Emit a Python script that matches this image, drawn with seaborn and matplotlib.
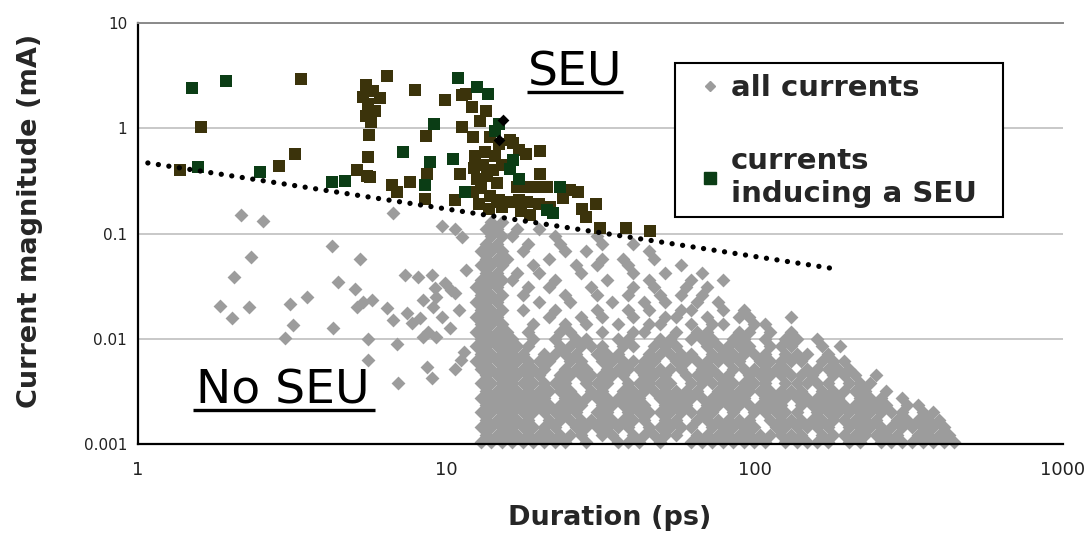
import matplotlib
matplotlib.use("Agg")
import matplotlib.pyplot as plt
import seaborn as sns
import pandas as pd
from matplotlib.lines import Line2D
from matplotlib.patches import Rectangle

# ---------------- data ----------------
# sparse grey "all currents" points (duration ps, current mA)
sparse_durations = [2.17, 2.56, 4.26, 2.33, 5.26, 2.05, 4.47, 5.07, 3.53, 3.12, 1.85, 2.29,
                    2.02, 3.2, 4.31, 3.0, 5.13, 5.39, 5.74, 6.42, 6.74, 5.6, 5.6, 6.92, 7.0,
                    7.35, 8.13, 6.74, 9.67, 7.45, 7.73, 8.23, 8.43, 9.08, 9.31, 8.98, 9.2,
                    9.91, 10.4, 9.67, 10.3, 8.75, 9.31, 8.43, 8.65, 8.98, 10.7, 11.2, 10.7,
                    11.3, 11.0, 10.7, 11.6, 11.4]
sparse_currents = [0.150, 0.133, 0.076, 0.0596, 0.057, 0.0384, 0.0349, 0.0295, 0.0248, 0.0213,
                   0.0205, 0.0199, 0.0157, 0.0135, 0.0126, 0.0102, 0.0202, 0.0225, 0.0234,
                   0.0195, 0.0151, 0.0099, 0.0063, 0.0089, 0.0038, 0.0404, 0.0384, 0.156,
                   0.118, 0.0175, 0.014, 0.0157, 0.0234, 0.0202, 0.0251, 0.0404, 0.0302,
                   0.0337, 0.029, 0.0162, 0.0126, 0.0117, 0.0105, 0.0105, 0.0054, 0.0042,
                   0.0052, 0.0063, 0.11, 0.093, 0.019, 0.027, 0.045, 0.0075]

# dense grey cloud, read row by row: one current level and the durations seen on it
dense_currents = [0.00105, 0.00123, 0.00145, 0.0017, 0.002, 0.00234, 0.00275, 0.0032,
                  0.0038, 0.0045, 0.0052, 0.0062, 0.0072, 0.0085, 0.01, 0.0117, 0.0138,
                  0.0162, 0.019, 0.0224, 0.026, 0.031, 0.036, 0.042, 0.05, 0.058, 0.068,
                  0.08, 0.094, 0.11, 0.13]
dense_durations = [
    [13.0, 14.0, 15.2, 16.4, 17.7, 19.2, 20.8, 22.5, 24.3, 28.5, 36.0, 39.0, 42.2, 49.3, 62.4,
     67.5, 73.0, 79.0, 85.4, 92.4, 100, 108, 126, 137, 148, 160, 173, 203, 219, 257, 278, 300,
     325, 351, 380, 411, 445],
    [13.5, 14.6, 15.8, 17.0, 18.4, 20.0, 21.6, 23.4, 25.3, 27.4, 32.0, 34.6, 40.5, 43.9, 47.4,
     51.3, 55.5, 64.9, 70.2, 76.0, 82.1, 88.8, 96.1, 104, 112, 122, 131, 142, 166, 180, 195,
     211, 228, 247, 267, 289, 338, 366, 395, 428],
    [13.0, 14.0, 15.2, 16.4, 17.7, 19.2, 20.8, 22.5, 26.3, 28.5, 30.8, 33.3, 36.0, 39.0, 45.6,
     49.3, 53.4, 57.7, 62.4, 73.0, 79.0, 85.4, 92.4, 100, 117, 126, 137, 148, 160, 173, 203,
     219, 237, 257, 278, 300, 325, 351, 380, 411],
    [13.5, 14.6, 15.8, 17.0, 18.4, 21.6, 23.4, 25.3, 27.4, 29.6, 32.0, 34.6, 37.5, 40.5, 43.9,
     51.3, 55.5, 64.9, 70.2, 76.0, 82.1, 88.8, 96.1, 112, 122, 131, 142, 154, 166, 180, 195,
     211, 228, 247, 289, 312, 338, 366, 395],
    [13.0, 14.0, 15.2, 16.4, 17.7, 19.2, 20.8, 22.5, 24.3, 26.3, 30.8, 33.3, 39.0, 42.2, 45.6,
     49.3, 53.4, 57.7, 62.4, 67.5, 73.0, 85.4, 100, 108, 117, 126, 137, 160, 173, 187, 203,
     219, 237, 257, 278, 300, 351, 380],
    [13.5, 14.6, 15.8, 17.0, 18.4, 20.0, 21.6, 23.4, 25.3, 27.4, 32.0, 34.6, 37.5, 40.5, 43.9,
     51.3, 55.5, 60.0, 70.2, 76.0, 82.1, 88.8, 96.1, 104, 112, 122, 142, 154, 166, 180, 195,
     211, 228, 247, 267, 312, 338],
    [13.0, 14.0, 15.2, 16.4, 17.7, 19.2, 20.8, 24.3, 26.3, 28.5, 30.8, 33.3, 36.0, 39.0, 42.2,
     49.3, 53.4, 57.7, 62.4, 67.5, 73.0, 79.0, 85.4, 92.4, 108, 117, 126, 137, 148, 160, 173,
     187, 219, 237, 257, 300],
    [13.5, 14.6, 15.8, 17.0, 18.4, 20.0, 21.6, 23.4, 25.3, 29.6, 32.0, 37.5, 40.5, 43.9, 47.4,
     51.3, 55.5, 60.0, 64.9, 76.0, 82.1, 88.8, 96.1, 104, 112, 122, 131, 142, 166, 180, 195,
     211, 228, 267],
    [13.0, 14.0, 15.2, 16.4, 17.7, 19.2, 20.8, 22.5, 24.3, 28.5, 30.8, 33.3, 39.0, 42.2, 45.6,
     49.3, 53.4, 62.4, 67.5, 73.0, 79.0, 85.4, 92.4, 100, 108, 126, 137, 148, 160, 173, 203,
     219, 237],
    [13.5, 14.6, 15.8, 17.0, 18.4, 20.0, 23.4, 25.3, 27.4, 29.6, 32.0, 34.6, 37.5, 43.9, 47.4,
     51.3, 60.0, 64.9, 70.2, 76.0, 82.1, 96.1, 104, 112, 122, 131, 142, 154, 180, 195, 211,
     247],
    [13.0, 14.0, 15.2, 16.4, 17.7, 19.2, 20.8, 24.3, 26.3, 28.5, 33.3, 36.0, 39.0, 42.2, 45.6,
     49.3, 53.4, 57.7, 67.5, 73.0, 85.4, 92.4, 100, 108, 117, 126, 148, 160, 173, 187, 203],
    [12.5, 13.5, 14.6, 15.8, 17.0, 18.4, 20.0, 21.6, 25.3, 27.4, 32.0, 34.6, 37.5, 40.5, 43.9,
     47.4, 55.5, 60.0, 64.9, 70.2, 76.0, 82.1, 88.8, 104, 112, 122, 131, 142, 166, 180, 195],
    [13.0, 14.0, 15.2, 16.4, 17.7, 20.8, 22.5, 24.3, 26.3, 30.8, 33.3, 36.0, 45.6, 49.3, 53.4,
     57.7, 62.4, 73.0, 79.0, 85.4, 92.4, 100, 108, 126, 137, 148, 173],
    [12.5, 13.5, 14.6, 15.8, 17.0, 18.4, 23.4, 25.3, 27.4, 29.6, 32.0, 37.5, 40.5, 47.4, 51.3,
     55.5, 70.2, 76.0, 82.1, 88.8, 96.1, 112, 122, 131, 166, 190],
    [13.0, 14.0, 15.2, 16.4, 19.2, 22.5, 26.3, 28.5, 36.0, 39.0, 49.3, 53.4, 62.4, 67.5, 73.0,
     85.4, 92.4, 108, 126, 137, 160],
    [12.5, 13.5, 14.6, 15.8, 18.4, 23.4, 25.3, 32.0, 40.5, 43.9, 55.5, 64.9, 70.2, 88.8, 96.1,
     112, 131],
    [13.0, 14.0, 15.2, 19.2, 24.3, 28.5, 36.0, 45.6, 49.3, 62.4, 73.0, 79.0, 100, 108],
    [12.5, 13.5, 14.6, 21.6, 27.4, 32.0, 40.5, 51.3, 55.5, 70.2, 88.8, 96.1, 131],
    [13.0, 14.0, 15.2, 17.7, 22.5, 30.8, 39.0, 45.6, 57.7, 62.4, 79.0, 92.4],
    [12.5, 13.5, 14.6, 20.0, 25.3, 34.6, 43.9, 51.3, 64.9, 76.0],
    [13.0, 14.0, 15.2, 17.7, 24.3, 30.8, 39.0, 49.3, 57.7, 67.5],
    [12.5, 13.5, 14.6, 18.4, 21.6, 29.6, 40.5, 47.4, 60.0, 70.2],
    [13.0, 14.0, 15.2, 16.4, 22.5, 33.3, 45.6, 62.4, 79.0],
    [13.5, 14.6, 17.0, 20.0, 27.4, 40.5, 51.3, 67.5],
    [13.0, 14.0, 15.2, 19.2, 26.3, 30.8, 39.0, 57.7],
    [13.5, 14.6, 15.8, 21.6, 32.0, 37.5, 47.4],
    [13.0, 14.0, 15.2, 17.7, 24.3, 28.5, 45.6],
    [13.5, 14.6, 18.4, 23.4, 32.0, 40.5],
    [14.0, 15.2, 16.4, 22.5, 30.8],
    [13.5, 14.6, 17.0, 20.0],
    [14.0, 15.2],
]

# currents inducing a SEU (dark green squares)
seu_green_durations = [1.5, 1.93, 1.57, 2.5, 4.26, 4.7, 10.9, 9.15, 7.26, 8.54, 8.87, 11.5,
                       10.5, 12.6, 13.7, 14.9, 14.4, 16.1, 16.5, 17.3, 23.4, 21.2, 22.2]
seu_green_currents = [2.45, 2.8, 0.43, 0.385, 0.31, 0.316, 3.0, 1.11, 0.6, 0.287, 0.48, 0.248,
                      0.515, 2.47, 2.14, 1.11, 0.95, 0.41, 0.5, 0.33, 0.277, 0.168, 0.156]
# second (dark olive) group of SEU squares
seu_olive_durations = [3.40, 1.61, 1.37, 2.87, 3.24, 5.13, 5.5, 5.8, 5.4, 6.1, 5.6, 5.9, 5.5,
                       5.7, 5.64, 6.42, 7.92, 9.9, 8.6, 5.6, 5.66, 6.66, 6.92, 7.63, 8.54,
                       8.65, 10.7, 11.1, 11.3, 11.3, 12.9, 12.2, 13.5, 5.53, 12.3, 13.2, 14.2,
                       12.6, 13.6, 14.6, 12.2, 13.0, 13.9, 14.8, 12.8, 13.8, 15.2, 12.4, 13.4,
                       14.4, 15.2, 16.5, 18.2, 20.1, 20.1, 21.2, 17.3, 20.0, 17.5, 21.7, 25.2,
                       26.8, 30.7, 31.5, 38.4, 45.7, 27.5, 28.5, 11.6, 12.1, 13.9, 14.9, 16.1,
                       17.3, 17.0, 18.3, 19.7, 14.6, 16.1, 18.3, 18.7, 24.0]
seu_olive_currents = [2.97, 1.03, 0.40, 0.435, 0.566, 0.40, 2.6, 2.25, 2.0, 1.95, 1.7, 1.45,
                      1.3, 1.15, 0.86, 3.14, 2.33, 1.87, 0.84, 0.53, 0.344, 0.287, 0.248, 0.31,
                      0.215, 0.37, 0.207, 0.37, 1.03, 2.1, 1.19, 0.83, 1.48, 0.357, 0.42, 0.45,
                      0.40, 0.33, 0.35, 0.3, 0.25, 0.27, 0.23, 0.21, 0.19, 0.17, 0.18, 0.55,
                      0.6, 0.55, 0.45, 0.72, 0.575, 0.615, 0.37, 0.277, 0.21, 0.19, 0.165,
                      0.178, 0.258, 0.248, 0.193, 0.112, 0.112, 0.107, 0.17, 0.145, 2.14, 1.6,
                      0.83, 0.71, 0.77, 0.62, 0.28, 0.28, 0.28, 0.2, 0.2, 0.2, 0.15, 0.22]
# two black points inside the SEU cluster
black_durations = [15.3, 14.9]
black_currents = [1.21, 0.77]

# dotted separation line
trend_durations = [1.08, 185]
trend_currents = [0.47, 0.046]

x_ticks = [1, 10, 100, 1000]
x_tick_labels = ["1", "10", "100", "1000"]
y_ticks = [0.001, 0.01, 0.1, 1, 10]
y_tick_labels = ["0.001", "0.01", "0.1", "1", "10"]

# ---------------- build tables ----------------
rows_d, rows_c = [], []
for cur, durs in zip(dense_currents, dense_durations):
    rows_d.extend(durs)
    rows_c.extend([cur] * len(durs))
grey = pd.DataFrame({"duration": sparse_durations + rows_d,
                     "current": sparse_currents + rows_c})
green = pd.DataFrame({"duration": seu_green_durations, "current": seu_green_currents})
olive = pd.DataFrame({"duration": seu_olive_durations, "current": seu_olive_currents})
black = pd.DataFrame({"duration": black_durations, "current": black_currents})
trend = pd.DataFrame({"duration": trend_durations, "current": trend_currents})

# ---------------- drawing ----------------
sns.set_style("white")
plt.rcParams["font.family"] = ["DejaVu Sans"]

fig = plt.figure(figsize=(10.89, 5.44), dpi=100)
ax = fig.add_axes([0.1263, 0.1838, 0.8498, 0.7734])

GREY = "#9c9c9c"
GREEN = "#0b3d15"
OLIVE = "#3b330b"

sns.scatterplot(data=grey, x="duration", y="current", marker="D", s=50, color=GREY,
                linewidth=0, ax=ax, zorder=2, clip_on=False)
sns.scatterplot(data=olive, x="duration", y="current", marker="s", s=85, color=OLIVE,
                linewidth=0, ax=ax, zorder=3)
sns.scatterplot(data=green, x="duration", y="current", marker="s", s=85, color=GREEN,
                linewidth=0, ax=ax, zorder=3)
sns.scatterplot(data=black, x="duration", y="current", marker="D", s=36, color="black",
                linewidth=0, ax=ax, zorder=3)
sns.lineplot(data=trend, x="duration", y="current", color="black", linewidth=3.8,
             linestyle=(0, (0.01, 2.0)), dash_capstyle="round", ax=ax, zorder=4)

ax.set_xscale("log")
ax.set_yscale("log")
ax.set_xlim(1, 1000)
ax.set_ylim(0.001, 10)
ax.set_xticks(x_ticks)
ax.set_xticklabels(x_tick_labels)
ax.set_yticks(y_ticks)
ax.set_yticklabels(y_tick_labels)
ax.minorticks_off()
ax.tick_params(axis="both", which="major", direction="out", length=4.5, width=1.4,
               color="black", labelcolor="#222222")
ax.tick_params(axis="x", pad=8, labelsize=13)
ax.tick_params(axis="y", pad=3, labelsize=11)

ax.yaxis.grid(True, color="#c4c4c4", linewidth=1.3)
ax.xaxis.grid(False)
ax.set_axisbelow(True)
for side in ["left", "bottom"]:
    ax.spines[side].set_color("black")
    ax.spines[side].set_linewidth(1.6)
ax.spines["right"].set_visible(False)
ax.spines["top"].set_color("#8a8a8a")
ax.spines["top"].set_linewidth(1.4)

ax.set_xlabel("Duration (ps)", fontsize=19.5, fontweight="bold")
ax.set_ylabel("Current magnitude (mA)", fontsize=19.5, fontweight="bold")
ax.xaxis.label.set_verticalalignment("center")
ax.yaxis.label.set_verticalalignment("center")
ax.xaxis.set_label_coords(0.51, -0.175)
ax.yaxis.set_label_coords(-0.116, 0.53)

# region labels with underline
ax.text(0.4727, 0.8527, "SEU", transform=ax.transAxes, fontsize=34, ha="center",
        va="baseline", color="black")
ax.plot([0.4209, 0.5246], [0.836, 0.836], transform=ax.transAxes, color="black", lw=2.4,
        solid_capstyle="butt")
ax.text(0.1572, 0.0974, "No SEU", transform=ax.transAxes, fontsize=34, ha="center",
        va="baseline", color="black")
ax.plot([0.06, 0.2566], [0.0808, 0.0808], transform=ax.transAxes, color="black", lw=2.4,
        solid_capstyle="butt")

# legend
box = Rectangle((0.581, 0.54), 0.354, 0.366, transform=ax.transAxes, facecolor="white",
                edgecolor="black", linewidth=1.5, zorder=5)
ax.add_patch(box)
handles = [Line2D([], [], marker="D", color=GREY, linestyle="none", markersize=5.5),
           Line2D([], [], marker="s", color=GREEN, linestyle="none", markersize=9)]
leg = ax.legend(handles, ["all currents", "currents\ninducing a SEU"], loc="upper left",
                bbox_to_anchor=(0.581, 0.935), frameon=False, handlelength=0.8,
                handletextpad=0.3, labelspacing=1.55, borderpad=0.3,
                prop={"size": 21, "weight": "bold"})
leg.set_zorder(6)

fig.savefig("out.png", dpi=100)
